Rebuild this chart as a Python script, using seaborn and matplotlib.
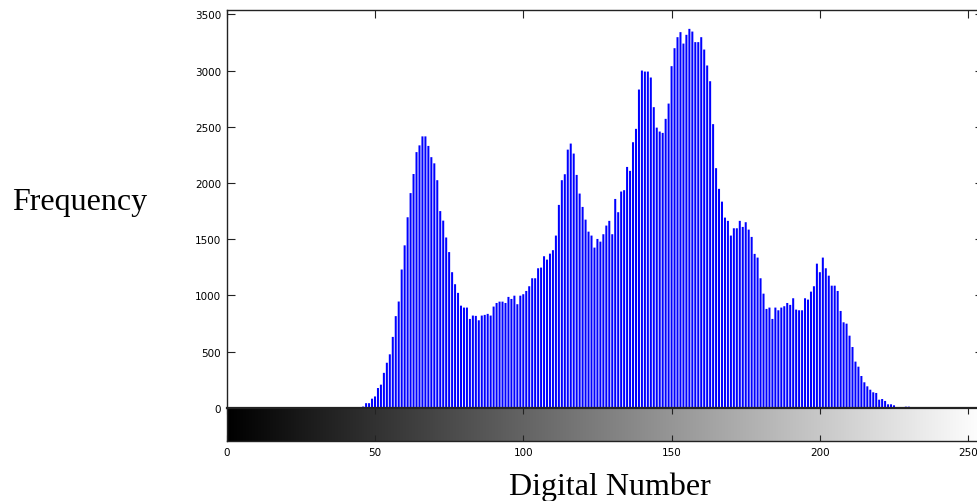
import numpy as np
import pandas as pd
import matplotlib
matplotlib.use("Agg")
import matplotlib.pyplot as plt
import seaborn as sns

# ---- data ----
digital_number = list(range(46, 231))
frequency = [
    10, 40, 40, 80, 100, 175, 205, 310, 400, 475,            # 46-55
    630, 815, 945, 1230, 1445, 1695, 1910, 2080, 2275, 2335,  # 56-65
    2415, 2415, 2330, 2230, 2175, 2025, 1750, 1665, 1515, 1385,  # 66-75
    1206, 1099, 1022, 908, 891, 891, 790, 820, 817, 778,      # 76-85
    820, 826, 835, 820, 900, 932, 944, 944, 932, 986,         # 86-95
    968, 997, 921, 997, 1010, 1039, 1081, 1152, 1152, 1241,   # 96-105
    1247, 1348, 1318, 1371, 1402, 1532, 1805, 2025, 2078, 2297,  # 106-115
    2351, 2262, 2072, 1906, 1787, 1674, 1567, 1532, 1425, 1502,  # 116-125
    1478, 1544, 1621, 1663, 1544, 1858, 1740, 1924, 1936, 2143,  # 126-135
    2108, 2363, 2482, 2832, 3001, 2992, 2992, 2939, 2675, 2493,  # 136-145
    2458, 2446, 2571, 2707, 3040, 3200, 3298, 3343, 3241, 3319,  # 146-155
    3372, 3348, 3254, 3254, 3298, 3188, 3046, 2906, 2524, 2132,  # 156-165
    1948, 1834, 1692, 1663, 1532, 1597, 1597, 1663, 1609, 1651,  # 166-175
    1585, 1520, 1369, 1336, 1152, 1015, 879, 891, 790, 891,   # 176-185
    867, 891, 903, 932, 915, 974, 873, 867, 867, 974,         # 186-195
    962, 1033, 1081, 1282, 1206, 1336, 1241, 1175, 1086, 1086,  # 196-205
    1039, 861, 760, 748, 641, 540, 410, 365, 282, 226,        # 206-215
    190, 160, 137, 131, 71, 77, 60, 30, 30, 21,               # 216-225
    6, 6, 6, 9, 9,                                            # 226-230
]
y_ticks = [0, 500, 1000, 1500, 2000, 2500, 3000, 3500]
x_ticks = [0, 50, 100, 150, 200, 250]
y_label = "Frequency"
x_label = "Digital Number"

df = pd.DataFrame({"dn": digital_number, "freq": frequency})

sns.set_theme(style="white")
plt.rcParams["font.family"] = ["DejaVu Sans"]
plt.rcParams["text.color"] = "black"

fig = plt.figure(figsize=(9.78, 5.02), dpi=100)
ax = fig.add_axes([0.2318, 0.1859, 0.7733, 0.7922])
cax = fig.add_axes([0.2318, 0.1205, 0.7733, 0.0654])

sns.barplot(data=df, x="dn", y="freq", native_scale=True, width=0.68,
            color="#0000ff", saturation=1, errorbar=None,
            linewidth=0, ax=ax)
for p in ax.patches:
    p.set_snap(False)
    p.set_antialiased(True)

ax.set_xlim(0, 255)
ax.set_ylim(0, 3540)
ax.set_yticks(y_ticks)
ax.set_yticklabels([str(v) for v in y_ticks], fontsize=7.5, color="black")
ax.set_xticks(x_ticks)
ax.set_xlabel("")
ax.set_ylabel("")
ax.tick_params(axis="both", direction="in", length=6, width=0.8, color="#222222",
               top=True, right=True, bottom=False, left=True,
               labelbottom=False, labeltop=False, labelright=False, pad=4)
for s in ax.spines.values():
    s.set_color("#222222")
    s.set_linewidth(1.0)
    s.set_visible(True)

# grey-level gradient strip under the histogram
grad = np.linspace(0, 1, 256)[None, :]
cax.imshow(grad, cmap="gray", aspect="auto", extent=[0, 255, 0, 1],
           interpolation="bilinear", vmin=0, vmax=1)
cax.set_xlim(0, 255)
cax.set_ylim(0, 1)
cax.set_yticks([])
cax.set_xticks(x_ticks)
cax.set_xticklabels([str(v) for v in x_ticks], fontsize=7.5, color="black")
cax.tick_params(axis="x", direction="in", length=4, width=0.8, color="#222222",
                top=True, bottom=True, pad=5)
for s in cax.spines.values():
    s.set_color("#222222")
    s.set_linewidth(1.0)
    s.set_visible(True)
cax.spines["top"].set_linewidth(1.6)

fig.text(80 / 978, 1 - 203 / 502, y_label, ha="center", va="center",
         family=["Liberation Serif", "DejaVu Serif"], fontsize=23, color="black")
fig.text(610 / 978, 1 - 487 / 502, x_label, ha="center", va="center",
         family=["Liberation Serif", "DejaVu Serif"], fontsize=23, color="black")

fig.savefig("out.png", dpi=100)
